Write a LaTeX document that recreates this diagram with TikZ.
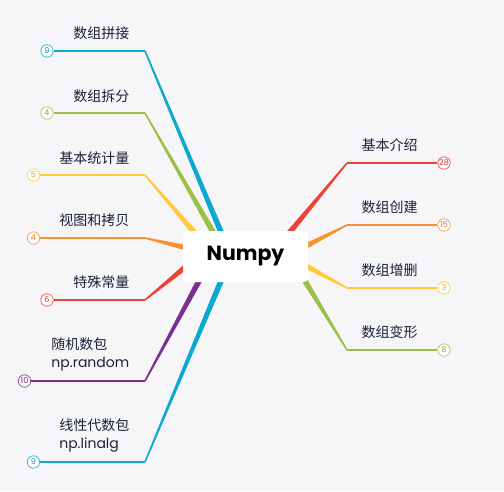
\documentclass[tikz,border=0pt]{standalone}
\usepackage{fontspec}
\newfontfamily\cjk{Noto Sans CJK SC}
\newfontfamily\pop{Poppins}
\usetikzlibrary{calc}
\definecolor{bg}{HTML}{F6F6F9}
\definecolor{txt}{HTML}{1B2238}
\definecolor{cblue}{HTML}{0BA8D2}
\definecolor{cgreen}{HTML}{9BC04A}
\definecolor{cyellow}{HTML}{FFC83D}
\definecolor{corange}{HTML}{F7922E}
\definecolor{cred}{HTML}{EB4335}
\definecolor{cpurple}{HTML}{7B2D90}
\tikzset{
  lab/.style={inner sep=0pt, text=txt, font=\cjk\fontsize{14}{18}\selectfont},
  cnt/.style={circle, draw=#1!80!white, fill=white, line width=0.8pt, minimum size=12.4pt, inner sep=0pt, text=#1!85!black, font=\pop\fontsize{8}{8}\selectfont},
  hline/.style={draw=#1, line width=1.5pt},
  centerbox/.style={fill=white, rounded corners=4pt, minimum width=125pt, minimum height=51pt, inner sep=0pt, font=\pop\bfseries\fontsize{20.5}{24}\selectfont, text=black}
}
\newcommand{\taper}[3]{%
  \fill[#3] let \p1=(#1), \p2=(#2), \n1={atan2(\y2-\y1,\x2-\x1)} in
    ($(#1)+(\n1+90:0.75pt)$) -- ($(#2)+(\n1+90:2.9pt)$) -- ($(#2)+(\n1-90:2.9pt)$) -- ($(#1)+(\n1-90:0.75pt)$) -- cycle;}
\begin{document}
\begin{tikzpicture}[x=1pt,y=-1pt]
\fill[bg] (0,0) rectangle (504,491);
\useasboundingbox (0,0) rectangle (504,491);
% elbows
\coordinate (e1) at (145,51);
\coordinate (e2) at (145,113);
\coordinate (e3) at (145,175);
\coordinate (e4) at (145,238);
\coordinate (e5) at (145,300);
\coordinate (e6) at (145,381);
\coordinate (e7) at (145,462);
\coordinate (r1) at (347,163);
\coordinate (r2) at (347,225);
\coordinate (r3) at (347,288);
\coordinate (r4) at (347,350);
% contact points (inside centre box)
\coordinate (k1) at ($(e1)!1.04!(221,232)$);
\coordinate (k2) at ($(e2)!1.05!(213,232)$);
\coordinate (k3) at ($(e3)!1.08!(194,232)$);
\coordinate (k4) at ($(e4)!1.15!(183,247)$);
\coordinate (k5) at ($(e5)!1.15!(183,269)$);
\coordinate (k6) at ($(e6)!1.05!(199,281)$);
\coordinate (k7) at ($(e7)!1.04!(221,281)$);
\coordinate (q1) at ($(r1)!1.08!(290,232)$);
\coordinate (q2) at ($(r2)!1.15!(308,245)$);
\coordinate (q3) at ($(r3)!1.15!(308,267)$);
\coordinate (q4) at ($(r4)!1.08!(305,281)$);
% tapered branches
\taper{e1}{k1}{cblue}
\taper{e2}{k2}{cgreen}
\taper{e3}{k3}{cyellow}
\taper{e4}{k4}{corange}
\taper{e5}{k5}{cred}
\taper{e6}{k6}{cpurple}
\taper{e7}{k7}{cblue}
\taper{r1}{q1}{cred}
\taper{r2}{q2}{corange}
\taper{r3}{q3}{cyellow}
\taper{r4}{q4}{cgreen}
% centre
\node[centerbox] (root) at (245.5,256.5) {Numpy};
% count circles
\node[cnt=cblue] (n1) at (47,51) {9};
\node[cnt=cgreen] (n2) at (47,113) {4};
\node[cnt=cyellow] (n3) at (33.5,175) {5};
\node[cnt=corange] (n4) at (33.5,238) {4};
\node[cnt=cred] (n5) at (47,300) {6};
\node[cnt=cpurple] (n6) at (24.5,381) {10};
\node[cnt=cblue] (n7) at (33.5,462) {9};
\node[cnt=cred] (m1) at (444,163) {28};
\node[cnt=corange] (m2) at (444,225) {15};
\node[cnt=cyellow] (m3) at (444,288) {3};
\node[cnt=cgreen] (m4) at (444,350) {8};
% horizontal lines
\draw[hline=cblue] (n1.east) -- (e1);
\draw[hline=cgreen] (n2.east) -- (e2);
\draw[hline=cyellow] (n3.east) -- (e3);
\draw[hline=corange] (n4.east) -- (e4);
\draw[hline=cred] (n5.east) -- (e5);
\draw[hline=cpurple] (n6.east) -- (e6);
\draw[hline=cblue] (n7.east) -- (e7);
\draw[hline=cred] (r1) -- (m1.west);
\draw[hline=corange] (r2) -- (m2.west);
\draw[hline=cyellow] (r3) -- (m3.west);
\draw[hline=cgreen] (r4) -- (m4.west);
% labels
\node[lab, anchor=east] (t1) at (129.5,33) {数组拼接};
\node[lab, anchor=east] (t2) at (129.5,96) {数组拆分};
\node[lab, anchor=east] (t3) at (129.5,158) {基本统计量};
\node[lab, anchor=east] (t4) at (129.5,220) {视图和拷贝};
\node[lab, anchor=east] (t5) at (129.5,282) {特殊常量};
\node[lab, anchor=east, align=left] (t6) at (129.5,354) {随机数包\\{\pop np.random}};
\node[lab, anchor=east, align=left] (t7) at (129.5,435) {线性代数包\\{\pop np.linalg}};
\node[lab, anchor=west] (s1) at (361.5,145) {基本介绍};
\node[lab, anchor=west] (s2) at (361.5,207) {数组创建};
\node[lab, anchor=west] (s3) at (361.5,270) {数组增删};
\node[lab, anchor=west] (s4) at (361.5,332) {数组变形};
\end{tikzpicture}
\end{document}
